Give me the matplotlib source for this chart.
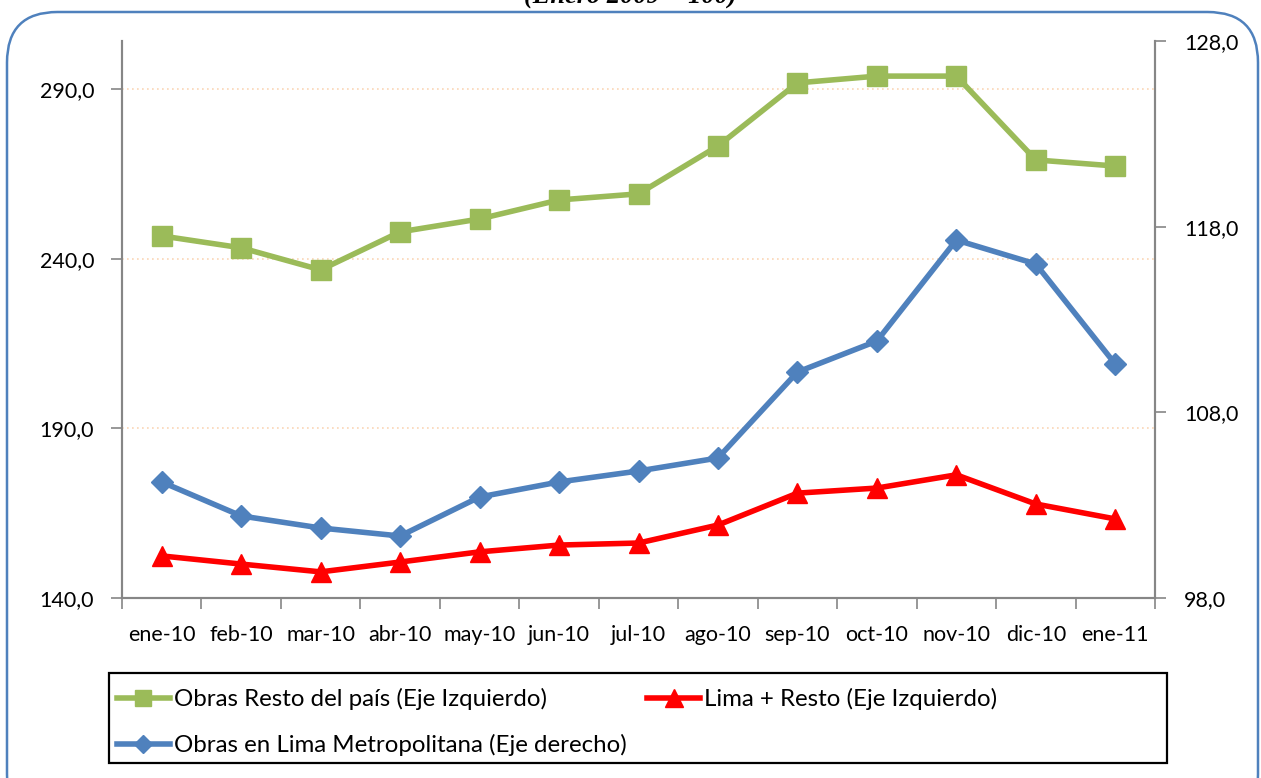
import numpy as np
import matplotlib
matplotlib.use("Agg")
import matplotlib.pyplot as plt
from matplotlib.patches import FancyBboxPatch, Rectangle
from matplotlib.ticker import FuncFormatter, FixedLocator

plt.rcParams['font.family'] = ['Lato', 'DejaVu Sans']

meses = ["ene-10", "feb-10", "mar-10", "abr-10", "may-10", "jun-10", "jul-10",
         "ago-10", "sep-10", "oct-10", "nov-10", "dic-10", "ene-11"]

# indices (Enero 2009 = 100)
resto_pais = [246.7, 243.2, 236.7, 247.9, 251.7, 257.3, 259.1,
              273.2, 291.8, 293.8, 293.8, 269.1, 267.3]
lima_resto = [152.4, 150.0, 147.7, 150.6, 153.6, 155.6, 156.2,
              161.5, 170.9, 172.4, 176.3, 167.7, 163.3]
lima_metro = [104.25, 102.42, 101.77, 101.34, 103.44, 104.25, 104.84,
              105.54, 110.17, 111.84, 117.28, 115.99, 110.60]

verde = "#9BBB59"
rojo = "#FF0000"
azul = "#4F81BD"
gris = "#868686"

W, H = 1261, 778
fig = plt.figure(figsize=(W / 100, H / 100), dpi=100)

# marco redondeado
marco = FancyBboxPatch((7 / W, -0.06), 1251 / W, 1.06 - 12 / H,
                       boxstyle="round,pad=0,rounding_size=0.04",
                       transform=fig.transFigure, fill=False,
                       edgecolor=azul, linewidth=1.8, mutation_aspect=W / H)
fig.patches.append(marco)

fig.text(0.5, 1 - 4 / H, "(Enero 2009 = 100)", ha="center", va="baseline",
         family="Liberation Serif", fontweight="bold", fontstyle="italic", fontsize=19)

ax = fig.add_axes([122 / W, 1 - 598 / H, (1155 - 122) / W, (598 - 41) / H])
ax2 = ax.twinx()

x = np.arange(len(meses))

l1, = ax.plot(x, resto_pais, color=verde, lw=4, marker="s", ms=14,
              label="Obras Resto del país (Eje Izquierdo)")
l2, = ax.plot(x, lima_resto, color=rojo, lw=4, marker="^", ms=15,
              label="Lima + Resto (Eje Izquierdo)")
l3, = ax2.plot(x, lima_metro, color=azul, lw=4, marker="D", ms=11,
               label="Obras en Lima Metropolitana (Eje derecho)")

ax.set_xlim(-0.5, len(meses) - 0.5)
ax.set_ylim(140, 140 + 557 / (509 / 150))
ax2.set_ylim(98, 128)

ax.set_yticks([140, 190, 240, 290])
ax2.set_yticks([98, 108, 118, 128])
coma = FuncFormatter(lambda v, p: f"{v:.1f}".replace(".", ","))
ax.yaxis.set_major_formatter(coma)
ax2.yaxis.set_major_formatter(coma)

ax.set_xticks(x)
ax.set_xticklabels(meses)
ax.xaxis.set_minor_locator(FixedLocator(np.arange(-0.5, len(meses), 1.0)))
ax.tick_params(axis="x", which="major", length=0, pad=19.5, labelsize=15.5)
ax.tick_params(axis="x", which="minor", length=8, width=1.2, color=gris)
ax.tick_params(axis="y", length=8, width=1.2, color=gris, labelsize=15.5, pad=12)
ax2.tick_params(axis="y", length=8, width=1.2, color=gris, labelsize=15.5, pad=13)

for a in (ax, ax2):
    a.spines["top"].set_visible(False)
    for s in ("left", "right", "bottom"):
        a.spines[s].set_color(gris)
        a.spines[s].set_linewidth(1.5)

ax.grid(axis="y", color="#FBD5B5", linestyle=(0, (1, 2)), linewidth=1.2)
ax.set_axisbelow(True)
ax.patch.set_visible(False)
ax2.patch.set_visible(False)
ax.set_zorder(2)
ax2.set_zorder(3)

# caja de la leyenda
fig.patches.append(Rectangle((109 / W, 1 - 763 / H), (1167 - 109) / W, 90 / H,
                             transform=fig.transFigure, fill=False,
                             edgecolor="black", linewidth=1.6))

leg = fig.legend(handles=[l1, l3, l2], ncol=2, loc="upper left",
                 bbox_to_anchor=(117 / W, 1 - 688 / H),
                 fontsize=17.3, frameon=False,
                 handlelength=2.2, handletextpad=0.17, borderaxespad=0,
                 labelspacing=1.0, borderpad=0, columnspacing=0.85,
                 markerscale=0.85)

fig.savefig("out.png", dpi=100)
